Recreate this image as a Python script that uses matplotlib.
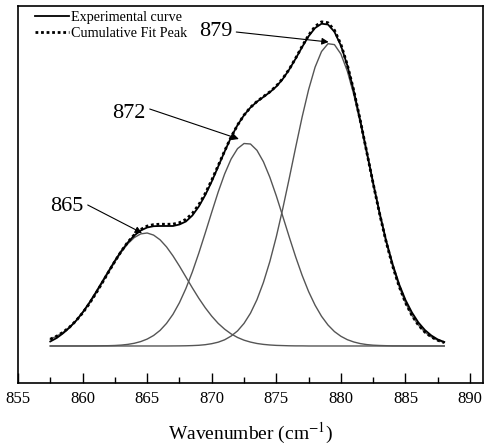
import matplotlib
matplotlib.use("Agg")
import matplotlib.pyplot as plt
from matplotlib.ticker import MultipleLocator
import numpy as np

plt.rcParams['font.family'] = ['Liberation Serif', 'DejaVu Serif']
plt.rcParams['mathtext.fontset'] = 'stix'

# wavenumber grid (cm-1), 857.5 ... 888 every 0.5
wn = np.arange(857.5, 888.01, 0.5)

# fitted component peaks (arbitrary units)
peak_865 = [6.8, 9.8, 13.8, 19.0, 25.3, 33.0, 41.9, 51.8, 62.5, 73.4, 84.1,
            93.9, 102.2, 108.4, 112.1, 113.0, 110.9, 106.2, 99.1, 90.1, 79.9,
            69.0, 58.1, 47.7, 38.2, 29.8, 22.6, 16.8, 12.1, 8.5, 5.8, 3.9,
            2.5, 1.6, 1.0, 0.6, 0.4, 0.2, 0.1, 0.1,
            0, 0, 0, 0, 0, 0, 0, 0, 0, 0, 0, 0, 0, 0, 0, 0, 0, 0, 0, 0, 0, 0]
peak_872 = [0, 0, 0, 0, 0, 0, 0,
            0.1, 0.2, 0.3, 0.5, 0.9, 1.6, 2.7, 4.4, 6.9, 10.5, 15.6, 22.6,
            31.7, 43.3, 57.5, 74.1, 92.9, 113.1, 133.8, 154.0, 172.1, 187.0,
            197.4, 202.5, 202.0, 195.7, 184.3, 168.7, 150.1, 129.7, 109.0,
            89.0, 70.6, 54.4, 40.8, 29.7, 21.0, 14.4, 9.7, 6.3, 4.0, 2.4, 1.4,
            0.8, 0.5, 0.3, 0.1, 0.1,
            0, 0, 0, 0, 0, 0, 0]
peak_879 = [0, 0, 0, 0, 0, 0, 0, 0, 0, 0, 0, 0, 0, 0, 0, 0, 0, 0, 0,
            0.05, 0.1, 0.2, 0.4, 0.7, 1.3, 2.3, 3.8, 6.2, 9.9, 15.1, 22.6,
            32.8, 46.3, 63.5, 84.5, 109.3, 137.4, 167.6, 198.8, 229.1, 256.4,
            278.8, 294.5, 302.3, 301.4, 292.0, 274.8, 251.3, 223.2, 192.6,
            161.5, 131.5, 104.0, 80.0, 59.8, 43.3, 30.5, 20.9, 13.9, 9.0, 5.7,
            3.4]

experimental = [4.5, 8.0, 12.8, 18.5, 25.3, 33.5, 42.8, 53.0, 63.8, 74.5,
                85.2, 95.0, 103.5, 110.5, 115.5, 118.5, 119.8, 120.0, 120.0,
                120.0, 121.5, 124.5, 130.5, 139.5, 151.0, 164.5, 179.5, 194.5,
                208.8, 221.0, 230.8, 238.5, 244.3, 249.0, 253.8, 259.5, 267.0,
                276.5, 287.5, 299.0, 309.8, 318.0, 322.3, 321.5, 314.2, 300.5,
                280.5, 255.0, 225.6, 194.5, 163.0, 133.0, 105.5, 82.0, 62.0,
                46.0, 33.5, 23.5, 16.0, 10.5, 6.5, 4.0]

# cumulative fit = sum of the three components
cumulative = np.array(peak_865) + np.array(peak_872) + np.array(peak_879)

labels = ["865", "872", "879"]
label_xy = [(858.8, 139), (863.6, 233), (870.3, 315)]
arrow_from = [(860.4, 141), (865.2, 237), (871.9, 314)]
arrow_to = [(864.6, 113), (872.1, 207), (879.05, 304)]

fig = plt.figure(figsize=(4.86, 4.46), dpi=100)
ax = fig.add_axes([0.037, 0.1413, 0.9568, 0.8452])

for comp in [peak_865, peak_872, peak_879]:
    ax.plot(wn, comp, color='#555555', lw=1.0)
ax.plot(wn, experimental, color='black', lw=1.3, label='Experimental curve')
ax.plot(wn, cumulative, color='black', lw=2.0, linestyle=(0, (1, 1)),
        label='Cumulative Fit Peak')

for lab, pos, a, b in zip(labels, label_xy, arrow_from, arrow_to):
    ax.text(pos[0], pos[1], lab, fontsize=16, ha='center', va='center')
    ax.annotate('', xy=b, xytext=a,
                arrowprops=dict(arrowstyle='-|>', color='black', lw=0.8,
                                mutation_scale=10, shrinkA=0, shrinkB=0))

ax.set_xlim(855, 891)
ax.set_ylim(-37, 340)
ax.xaxis.set_major_locator(MultipleLocator(5))
ax.xaxis.set_minor_locator(MultipleLocator(2.5))
ax.tick_params(axis='x', which='major', direction='in', length=7, width=1,
               labelsize=12, pad=6)
ax.tick_params(axis='x', which='minor', direction='in', length=4, width=1)
ax.set_yticks([])
for s in ax.spines.values():
    s.set_linewidth(1.2)

ax.set_xlabel('Wavenumber (cm$^{-1}$)', fontsize=14, labelpad=10)
ax.legend(loc='upper left', bbox_to_anchor=(0.03, 0.995), frameon=False,
          fontsize=10.2, handlelength=2.4, handletextpad=0.15,
          labelspacing=0.2, borderpad=0.2, borderaxespad=0)

fig.savefig('out.png', dpi=100)
